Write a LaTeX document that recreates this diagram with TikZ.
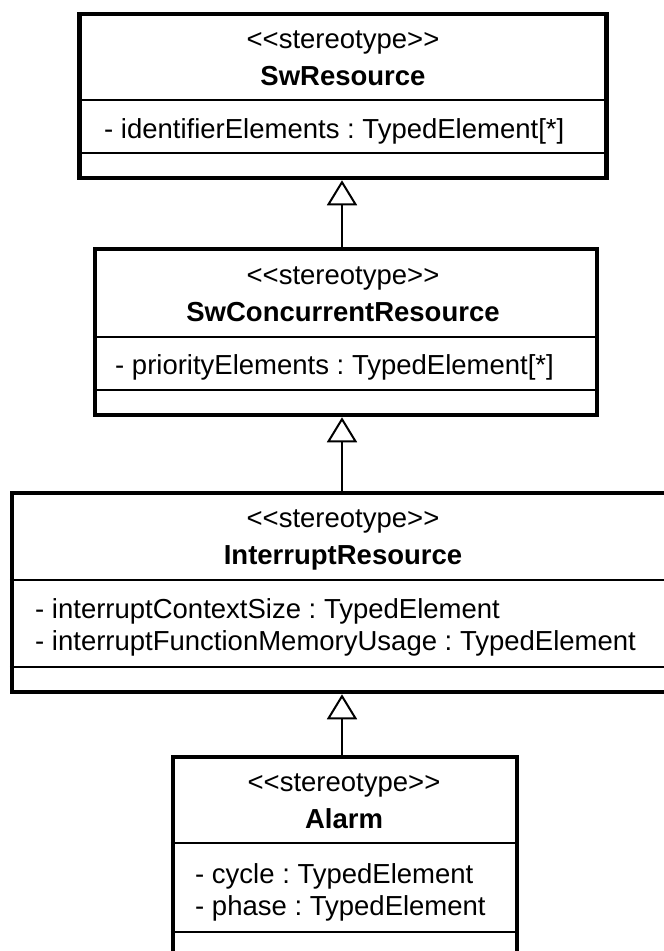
\documentclass[tikz,border=0pt]{standalone}
\usepackage{fontspec}
\setmainfont{Liberation Sans}
\usetikzlibrary{arrows.meta}

% kerns keep the angle brackets from merging into guillemets
\newcommand{\stereo}{<\kern0pt<stereotype>\kern0pt>}

\tikzset{
  x=1pt, y=-1pt,
  umlbox/.style={draw=black, line width=4.5pt, fill=white, rectangle, inner sep=0pt},
  divider/.style={draw=black, line width=1.8pt},
  inherit/.style={draw=black, line width=2pt, -{Triangle[open, length=25pt, width=30pt]}},
  txt/.style={inner sep=0pt, anchor=base, font=\fontsize{27.5pt}{33pt}\selectfont\frenchspacing},
  title/.style={txt, font=\fontsize{27.5pt}{33pt}\selectfont\bfseries},
  attr/.style={txt, anchor=base west},
}

\begin{document}
\begin{tikzpicture}
\useasboundingbox (0,0) rectangle (664,951);

% class boxes
\node[umlbox, minimum width=527pt, minimum height=164pt] (r1) at (343,96) {};
\node[umlbox, minimum width=502pt, minimum height=166pt] (r2) at (346,332) {};
\node[umlbox, minimum width=668pt, minimum height=199pt] (r3) at (346,592.5) {};
\node[umlbox, minimum width=344pt, minimum height=233pt] (r4) at (345,873.5) {};

% compartment separators
\draw[divider] (r1.west |- 0,100) -- (r1.east |- 0,100);
\draw[divider] (r1.west |- 0,153) -- (r1.east |- 0,153);
\draw[divider] (r2.west |- 0,337) -- (r2.east |- 0,337);
\draw[divider] (r2.west |- 0,390) -- (r2.east |- 0,390);
\draw[divider] (r3.west |- 0,580) -- (r3.east |- 0,580);
\draw[divider] (r3.west |- 0,667) -- (r3.east |- 0,667);
\draw[divider] (r4.west |- 0,843) -- (r4.east |- 0,843);
\draw[divider] (r4.west |- 0,932) -- (r4.east |- 0,932);

% SwResource
\node[txt]   (s1) at (343,48)  {\stereo};
\node[title] (n1) at (343,85)  {SwResource};
\node[attr]  (a1) at (104,138) {- identifierElements : TypedElement[*]};

% SwConcurrentResource
\node[txt]   (s2) at (343,284) {\stereo};
\node[title] (n2) at (343,321) {SwConcurrentResource};
\node[attr]  (a2) at (115,374) {- priorityElements : TypedElement[*]};

% InterruptResource
\node[txt]   (s3) at (343,527) {\stereo};
\node[title] (n3) at (343,564) {InterruptResource};
\node[attr]  (a3) at (35,618)  {- interruptContextSize : TypedElement};
\node[attr]  (a4) at (35,650)  {- interruptFunctionMemoryUsage : TypedElement};

% Alarm
\node[txt]   (s4) at (344,791) {\stereo};
\node[title] (n4) at (344,828) {Alarm};
\node[attr]  (a5) at (195,883) {- cycle : TypedElement};
\node[attr]  (a6) at (195,915) {- phase : TypedElement};

% generalizations
\draw[inherit] (r2.north -| 342,0) -- (r1.south -| 342,0);
\draw[inherit] (r3.north -| 342,0) -- (r2.south -| 342,0);
\draw[inherit] (r4.north -| 342,0) -- (r3.south -| 342,0);
\end{tikzpicture}
\end{document}
